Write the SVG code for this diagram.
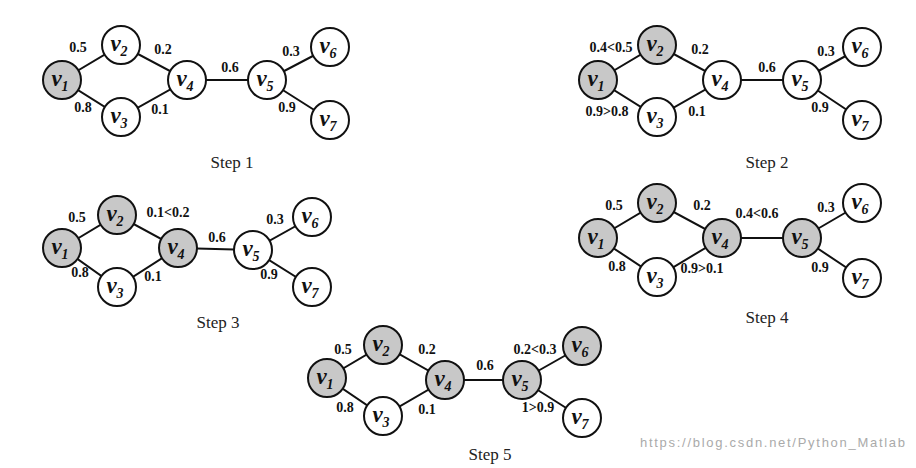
<svg xmlns="http://www.w3.org/2000/svg" width="916" height="468" viewBox="0 0 916 468">
<style>
.c{fill:#fff;stroke:#111;stroke-width:2}
.g{fill:#c8c8c8}
.e{stroke:#111;stroke-width:2;fill:none}
.n{font-family:"Liberation Serif",serif;font-style:italic;font-weight:bold;font-size:23px;fill:#111;text-anchor:middle}
.s{font-size:14px}
.w{font-family:"Liberation Serif",serif;font-weight:bold;font-size:14px;fill:#111;text-anchor:middle}
.t{font-family:"Liberation Serif",serif;font-size:17px;fill:#222;text-anchor:middle}
.u{font-family:"Liberation Sans",sans-serif;font-size:13px;fill:#aaa}
</style>
<rect width="916" height="468" fill="#fff"/>
<g id="connectors">
<path class="e" d="M62 80L121 45L187 80L121 117Z M187 80H267 M267 80L330 47 M267 80L330 120"/>
<path class="e" d="M598 80L657 45L722 80L657 117Z M722 80H802 M802 80L862 47 M802 80L862 120"/>
<path class="e" d="M62 248L117 215L178 248L117 287Z M178 248L253 250 M253 250L312 217 M253 250L312 287"/>
<path class="e" d="M598 238L657 203L722 238L657 277Z M722 238H802 M802 238L862 203 M802 238L862 278"/>
<path class="e" d="M327 378L383 345L445 380L383 416Z M445 380H522 M522 380L582 346 M522 380L582 418"/>
</g>
<g id="step1">
<g id="s1v1"><circle class="c g" cx="62" cy="80" r="19"/><text class="n" x="60" y="86">v<tspan class="s" dy="5">1</tspan></text></g>
<g id="s1v2"><circle class="c" cx="121" cy="45" r="19"/><text class="n" x="119" y="51">v<tspan class="s" dy="5">2</tspan></text></g>
<g id="s1v3"><circle class="c" cx="121" cy="117" r="19"/><text class="n" x="119" y="123">v<tspan class="s" dy="5">3</tspan></text></g>
<g id="s1v4"><circle class="c" cx="187" cy="80" r="19"/><text class="n" x="185" y="86">v<tspan class="s" dy="5">4</tspan></text></g>
<g id="s1v5"><circle class="c" cx="267" cy="80" r="19"/><text class="n" x="265" y="86">v<tspan class="s" dy="5">5</tspan></text></g>
<g id="s1v6"><circle class="c" cx="330" cy="47" r="19"/><text class="n" x="328" y="53">v<tspan class="s" dy="5">6</tspan></text></g>
<g id="s1v7"><circle class="c" cx="330" cy="120" r="19"/><text class="n" x="328" y="126">v<tspan class="s" dy="5">7</tspan></text></g>
<text class="w" x="78" y="52">0.5</text><text class="w" x="163" y="54">0.2</text><text class="w" x="83" y="112">0.8</text><text class="w" x="160" y="114">0.1</text><text class="w" x="230" y="72">0.6</text><text class="w" x="291" y="56">0.3</text><text class="w" x="287" y="112">0.9</text>
<text class="t" x="232" y="168">Step 1</text>
</g>
<g id="step2">
<g id="s2v1"><circle class="c g" cx="598" cy="80" r="19"/><text class="n" x="596" y="86">v<tspan class="s" dy="5">1</tspan></text></g>
<g id="s2v2"><circle class="c g" cx="657" cy="45" r="19"/><text class="n" x="655" y="51">v<tspan class="s" dy="5">2</tspan></text></g>
<g id="s2v3"><circle class="c" cx="657" cy="117" r="19"/><text class="n" x="655" y="123">v<tspan class="s" dy="5">3</tspan></text></g>
<g id="s2v4"><circle class="c" cx="722" cy="80" r="19"/><text class="n" x="720" y="86">v<tspan class="s" dy="5">4</tspan></text></g>
<g id="s2v5"><circle class="c" cx="802" cy="80" r="19"/><text class="n" x="800" y="86">v<tspan class="s" dy="5">5</tspan></text></g>
<g id="s2v6"><circle class="c" cx="862" cy="47" r="19"/><text class="n" x="860" y="53">v<tspan class="s" dy="5">6</tspan></text></g>
<g id="s2v7"><circle class="c" cx="862" cy="120" r="19"/><text class="n" x="860" y="126">v<tspan class="s" dy="5">7</tspan></text></g>
<text class="w" x="611" y="52">0.4&lt;0.5</text><text class="w" x="700" y="54">0.2</text><text class="w" x="607" y="116">0.9&gt;0.8</text><text class="w" x="697" y="116">0.1</text><text class="w" x="767" y="72">0.6</text><text class="w" x="826" y="56">0.3</text><text class="w" x="820" y="112">0.9</text>
<text class="t" x="767" y="168">Step 2</text>
</g>
<g id="step3">
<g id="s3v1"><circle class="c g" cx="62" cy="248" r="19"/><text class="n" x="60" y="254">v<tspan class="s" dy="5">1</tspan></text></g>
<g id="s3v2"><circle class="c g" cx="117" cy="215" r="19"/><text class="n" x="115" y="221">v<tspan class="s" dy="5">2</tspan></text></g>
<g id="s3v3"><circle class="c" cx="117" cy="287" r="19"/><text class="n" x="115" y="293">v<tspan class="s" dy="5">3</tspan></text></g>
<g id="s3v4"><circle class="c g" cx="178" cy="248" r="19"/><text class="n" x="176" y="254">v<tspan class="s" dy="5">4</tspan></text></g>
<g id="s3v5"><circle class="c" cx="253" cy="250" r="19"/><text class="n" x="251" y="256">v<tspan class="s" dy="5">5</tspan></text></g>
<g id="s3v6"><circle class="c" cx="312" cy="217" r="19"/><text class="n" x="310" y="223">v<tspan class="s" dy="5">6</tspan></text></g>
<g id="s3v7"><circle class="c" cx="312" cy="287" r="19"/><text class="n" x="310" y="293">v<tspan class="s" dy="5">7</tspan></text></g>
<text class="w" x="77" y="222">0.5</text><text class="w" x="168" y="217">0.1&lt;0.2</text><text class="w" x="80" y="277">0.8</text><text class="w" x="153" y="281">0.1</text><text class="w" x="217" y="242">0.6</text><text class="w" x="275" y="224">0.3</text><text class="w" x="269" y="279">0.9</text>
<text class="t" x="218" y="328">Step 3</text>
</g>
<g id="step4">
<g id="s4v1"><circle class="c g" cx="598" cy="238" r="19"/><text class="n" x="596" y="244">v<tspan class="s" dy="5">1</tspan></text></g>
<g id="s4v2"><circle class="c g" cx="657" cy="203" r="19"/><text class="n" x="655" y="209">v<tspan class="s" dy="5">2</tspan></text></g>
<g id="s4v3"><circle class="c" cx="657" cy="277" r="19"/><text class="n" x="655" y="283">v<tspan class="s" dy="5">3</tspan></text></g>
<g id="s4v4"><circle class="c g" cx="722" cy="238" r="19"/><text class="n" x="720" y="244">v<tspan class="s" dy="5">4</tspan></text></g>
<g id="s4v5"><circle class="c g" cx="802" cy="238" r="19"/><text class="n" x="800" y="244">v<tspan class="s" dy="5">5</tspan></text></g>
<g id="s4v6"><circle class="c" cx="862" cy="203" r="19"/><text class="n" x="860" y="209">v<tspan class="s" dy="5">6</tspan></text></g>
<g id="s4v7"><circle class="c" cx="862" cy="278" r="19"/><text class="n" x="860" y="284">v<tspan class="s" dy="5">7</tspan></text></g>
<text class="w" x="614" y="210">0.5</text><text class="w" x="702" y="210">0.2</text><text class="w" x="617" y="271">0.8</text><text class="w" x="702" y="273">0.9&gt;0.1</text><text class="w" x="757" y="218">0.4&lt;0.6</text><text class="w" x="826" y="212">0.3</text><text class="w" x="820" y="272">0.9</text>
<text class="t" x="767" y="323">Step 4</text>
</g>
<g id="step5">
<g id="s5v1"><circle class="c g" cx="327" cy="378" r="19"/><text class="n" x="325" y="384">v<tspan class="s" dy="5">1</tspan></text></g>
<g id="s5v2"><circle class="c g" cx="383" cy="345" r="19"/><text class="n" x="381" y="351">v<tspan class="s" dy="5">2</tspan></text></g>
<g id="s5v3"><circle class="c" cx="383" cy="416" r="19"/><text class="n" x="381" y="422">v<tspan class="s" dy="5">3</tspan></text></g>
<g id="s5v4"><circle class="c g" cx="445" cy="380" r="19"/><text class="n" x="443" y="386">v<tspan class="s" dy="5">4</tspan></text></g>
<g id="s5v5"><circle class="c g" cx="522" cy="380" r="19"/><text class="n" x="520" y="386">v<tspan class="s" dy="5">5</tspan></text></g>
<g id="s5v6"><circle class="c g" cx="582" cy="346" r="19"/><text class="n" x="580" y="352">v<tspan class="s" dy="5">6</tspan></text></g>
<g id="s5v7"><circle class="c" cx="582" cy="418" r="19"/><text class="n" x="580" y="424">v<tspan class="s" dy="5">7</tspan></text></g>
<text class="w" x="343" y="354">0.5</text><text class="w" x="427" y="354">0.2</text><text class="w" x="345" y="412">0.8</text><text class="w" x="427" y="414">0.1</text><text class="w" x="485" y="370">0.6</text><text class="w" x="535" y="354">0.2&lt;0.3</text><text class="w" x="538" y="412">1&gt;0.9</text>
<text class="t" x="490" y="460">Step 5</text>
</g>
<text class="u" x="640" y="447" textLength="265">https://blog.csdn.net/Python_Matlab</text>
</svg>
